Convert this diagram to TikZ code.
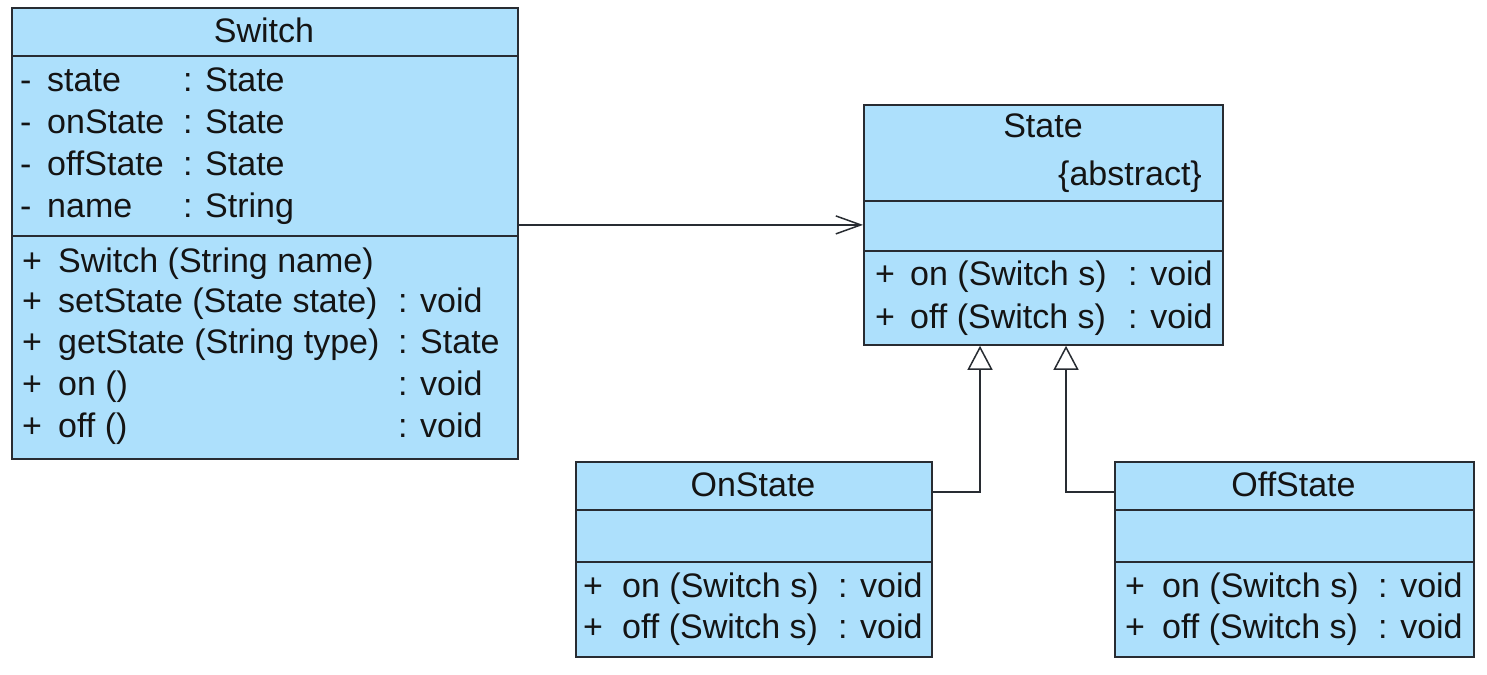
\documentclass[tikz,border=0pt]{standalone}
\usepackage{fontspec}
\setmainfont{Liberation Sans}
\usepackage{tikz}
\usetikzlibrary{arrows.meta}
\definecolor{umlfill}{RGB}{173,224,252}
\definecolor{umlline}{RGB}{40,44,50}
\tikzset{
  classbox/.style = {draw=umlline, fill=umlfill, line width=1.8pt, rectangle, inner sep=0pt, anchor=north west},
  sepln/.style    = {umlline, line width=1.6pt},
  txt/.style      = {anchor=base west, inner sep=0pt, font=\fontsize{34}{40}\selectfont, text=black!92},
  ttl/.style      = {txt, anchor=base},
  assocarr/.style = {-{Straight Barb[length=25pt,width=18pt]}, umlline, line width=1.5pt},
  inhearr/.style  = {-{Triangle[open,length=24pt,width=25pt]}, umlline, line width=1.5pt}
}

\begin{document}
\begin{tikzpicture}[x=1pt,y=-1pt]
  \useasboundingbox (0,0) rectangle (1487,674);
  % the four class boxes
  \node[classbox,minimum width=506pt,minimum height=451pt] (sw) at (11,7) {};
  \node[classbox,minimum width=359pt,minimum height=240pt] (st) at (863,104) {};
  \node[classbox,minimum width=356pt,minimum height=195pt] (ons) at (575,461) {};
  \node[classbox,minimum width=359pt,minimum height=195pt] (offs) at (1114,461) {};
  % compartment lines
  \foreach \y in {56,236} \draw[sepln] (sw.west |- 0,\y) -- (sw.east |- 0,\y);
  \foreach \y in {201,251} \draw[sepln] (st.west |- 0,\y) -- (st.east |- 0,\y);
  \foreach \y in {510,562} \draw[sepln] (ons.west |- 0,\y) -- (ons.east |- 0,\y);
  \foreach \y in {510,562} \draw[sepln] (offs.west |- 0,\y) -- (offs.east |- 0,\y);
  % Switch
  \node[ttl] (swtitle) at (264,43) {Switch};
  \foreach \y/\nm/\ty in {92/state/State, 133/onState/State, 175/offState/State, 217/name/String}
    { \node[txt] (swv\y) at (20,\y) {-};
      \node[txt] (swn\y) at (47,\y) {\nm};
      \node[txt] (swt\y) at (183,\y) {: \ty}; }
  \foreach \y/\nm/\ty in {272/{Switch (String name)}/{}, 312/{setState (State state)}/{: void},
                          353/{getState (String type)}/{: State}, 395/{on ()}/{: void}, 437/{off ()}/{: void}}
    { \node[txt] (swp\y) at (22,\y) {+};
      \node[txt] (swm\y) at (58,\y) {\nm};
      \node[txt] (swr\y) at (398,\y) {\ty}; }
  % State
  \node[ttl] (sttitle) at (1043,138) {State};
  \node[txt,anchor=base east] (stabs) at (1202,185) {\{abstract\}};
  \foreach \y/\nm in {285/on, 328/off}
    { \node[txt] (stp\y) at (875,\y) {+};
      \node[txt] (stm\y) at (910,\y) {\nm\ (Switch s)};
      \node[txt] (str\y) at (1128,\y) {: void}; }
  % OnState and OffState
  \node[ttl] (onstitle) at (753,496) {OnState};
  \node[ttl] (offstitle) at (1293.5,496) {OffState};
  \foreach \y/\nm in {597/on, 638/off}
    { \node[txt] (onp\y) at (583,\y) {+};
      \node[txt] (onm\y) at (622,\y) {\nm\ (Switch s)};
      \node[txt] (onr\y) at (838,\y) {: void};
      \node[txt] (offp\y) at (1125,\y) {+};
      \node[txt] (offm\y) at (1162,\y) {\nm\ (Switch s)};
      \node[txt] (offr\y) at (1378,\y) {: void}; }
  % association and generalisations
  \draw[assocarr] (st.west -| sw.east) -- (st.west);
  \coordinate (onbend) at (980,492);
  \coordinate (offbend) at (1066,492);
  \draw[inhearr] (onbend -| ons.east) -| (st.south -| onbend);
  \draw[inhearr] (offbend -| offs.west) -| (st.south -| offbend);
\end{tikzpicture}
\end{document}
